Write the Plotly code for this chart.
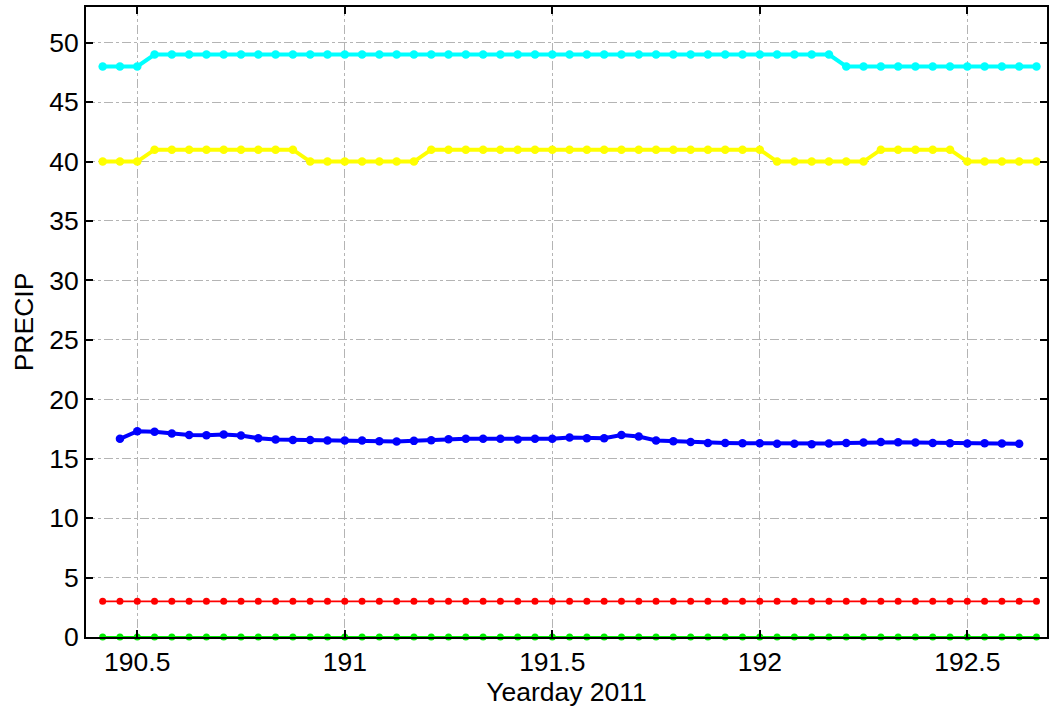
import numpy as np
import plotly.graph_objects as go

# Hourly sample times (yearday 2011), 190 10:00 through 192 16:00
hours = list(range(10, 65))
yearday = [190 + h / 24 for h in hours]

cyan_vals = [48, 48, 48] + [49] * 40 + [48] * 12
yellow_vals = ([40, 40, 40] + [41] * 9 + [40] * 7 + [41] * 20
               + [40] * 6 + [41] * 5 + [40] * 5)
red_vals = [3] * 55
green_vals = [0] * 55

# Blue series starts one hour later and ends one hour earlier
blue_time = yearday[1:54]
blue_vals = [16.67, 17.31, 17.26, 17.12, 17.00, 16.97, 17.03, 16.95, 16.72, 16.61,
             16.58, 16.58, 16.53, 16.53, 16.53, 16.47, 16.44, 16.50, 16.56, 16.64,
             16.67, 16.67, 16.67, 16.61, 16.67, 16.67, 16.78, 16.72, 16.72, 17.00,
             16.86, 16.53, 16.47, 16.41, 16.33, 16.33, 16.30, 16.30, 16.25,
             16.25, 16.22, 16.27, 16.33, 16.36, 16.41, 16.39, 16.36, 16.33, 16.30,
             16.27, 16.30, 16.27, 16.25]

x_ticks = [190.5, 191, 191.5, 192, 192.5]
x_tick_text = ["190.5", "191", "191.5", "192", "192.5"]
y_ticks = [0, 5, 10, 15, 20, 25, 30, 35, 40, 45, 50]

fig = go.Figure()

def add_series(x, y, color, lw, ms):
    fig.add_trace(go.Scatter(
        x=x, y=y, mode="lines+markers",
        line=dict(color=color, width=lw),
        marker=dict(color=color, size=ms),
        cliponaxis=False, showlegend=False,
    ))

add_series(yearday, green_vals, "#00ee00", 1.8, 7)
add_series(yearday, red_vals, "#ff0000", 1.8, 7)
add_series(blue_time, blue_vals, "#0000ff", 4, 8.5)
add_series(yearday, yellow_vals, "#ffff00", 4, 8.5)
add_series(yearday, cyan_vals, "#00ffff", 4, 8.5)

font = dict(family="Liberation Sans, Arial, sans-serif", size=26.5, color="black")

fig.update_layout(
    width=1049, height=710,
    margin=dict(l=86, r=0, t=7, b=73),
    paper_bgcolor="white", plot_bgcolor="white",
    font=font,
)

fig.update_xaxes(
    range=[190.3765, 192.692],
    tickvals=x_ticks, ticktext=x_tick_text,
    ticks="inside", ticklen=7, tickwidth=1.5, tickcolor="black",
    showline=True, linecolor="black", linewidth=2, mirror="allticks",
    showgrid=True, gridcolor="#b4b4b4", griddash="dashdot", gridwidth=1,
    zeroline=False,
    title=dict(text="Yearday 2011", standoff=2, font=font),
    tickfont=font,
)
fig.update_yaxes(
    range=[0, 53],
    tickvals=y_ticks,
    ticks="inside", ticklen=7, tickwidth=1.5, tickcolor="black",
    showline=True, linecolor="black", linewidth=2, mirror="allticks",
    showgrid=True, gridcolor="#b4b4b4", griddash="dashdot", gridwidth=1,
    zeroline=False,
    title=dict(text="PRECIP", standoff=8, font=font),
    tickfont=font,
)

fig.write_html("out.html")
